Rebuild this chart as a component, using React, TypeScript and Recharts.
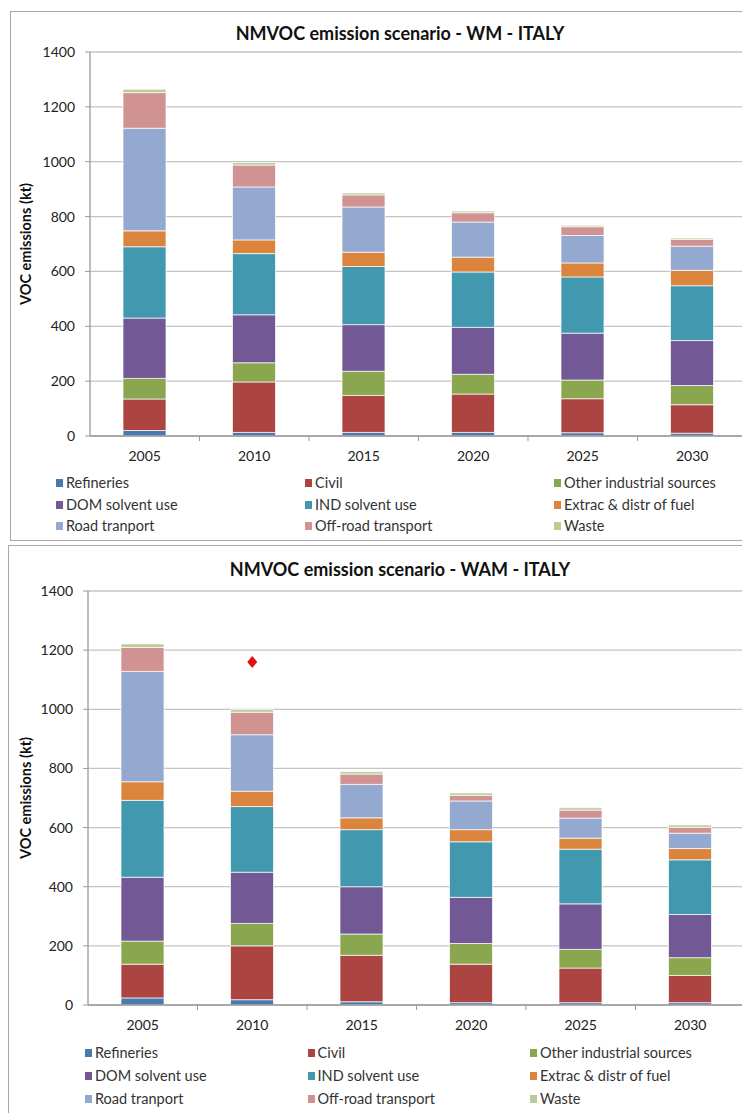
import React from "react";
import { ComposedChart, Bar, Line, XAxis, YAxis, CartesianGrid } from "recharts";

const years = ["2005", "2010", "2015", "2020", "2025", "2030"];
const yTicks = [0, 200, 400, 600, 800, 1000, 1200, 1400];

const sectorKeys = ["refineries", "civil", "other", "dom", "ind", "extrac", "road", "offroad", "waste"];
const sectorNames = [
  "Refineries",
  "Civil",
  "Other industrial sources",
  "DOM solvent use",
  "IND solvent use",
  "Extrac & distr of fuel",
  "Road tranport",
  "Off-road transport",
  "Waste",
];
const sectorColors = ["#4a79b2", "#ac4542", "#8aa64e", "#725894", "#4198af", "#db843d", "#93a9cf", "#d19392", "#b9cd96"];

// WM scenario (kt)
const wmRefineries = [20, 13, 13, 13, 12, 10];
const wmCivil = [115, 184, 135, 140, 124, 104];
const wmOtherInd = [75, 70, 88, 72, 68, 70];
const wmDomSolvent = [220, 175, 170, 171, 171, 164];
const wmIndSolvent = [260, 223, 212, 202, 205, 200];
const wmExtrac = [58, 50, 52, 54, 51, 56];
const wmRoad = [374, 193, 165, 128, 100, 88];
const wmOffRoad = [130, 80, 44, 34, 32, 25];
const wmWaste = [12, 9, 7, 6, 5, 5];

// WAM scenario (kt)
const wamRefineries = [24, 18, 11, 8, 8, 8];
const wamCivil = [114, 182, 157, 130, 117, 92];
const wamOtherInd = [78, 76, 72, 70, 63, 60];
const wamDomSolvent = [216, 173, 160, 156, 154, 146];
const wamIndSolvent = [260, 222, 193, 188, 185, 185];
const wamExtrac = [63, 52, 40, 41, 37, 38];
const wamRoad = [373, 191, 113, 97, 68, 52];
const wamOffRoad = [81, 76, 35, 19, 27, 20];
const wamWaste = [12, 9, 8, 8, 8, 8];
const wamTarget = [null, 1160, null, null, null, null];

const FONT = "Lato, 'Open Sans', sans-serif";
const BAND = 109.5;

const buildRows = (series: number[][], target?: (number | null)[]) =>
  years.map((year, i) => {
    const row: Record<string, any> = { year };
    sectorKeys.forEach((k, j) => (row[k] = series[j][i]));
    if (target) row.target = target[i];
    return row;
  });

const wmData = buildRows([wmRefineries, wmCivil, wmOtherInd, wmDomSolvent, wmIndSolvent, wmExtrac, wmRoad, wmOffRoad, wmWaste]);
const wamData = buildRows(
  [wamRefineries, wamCivil, wamOtherInd, wamDomSolvent, wamIndSolvent, wamExtrac, wamRoad, wamOffRoad, wamWaste],
  wamTarget
);

const renderYearTick = (p: any) => {
  const x = p.x;
  const y = p.y;
  return (
    <g key={`tick-${p.index}`}>
      {p.index > 0 && <line x1={x - BAND / 2} x2={x - BAND / 2} y1={y} y2={y + 5} stroke="#999" />}
      <text x={x} y={y + 25} textAnchor="middle" fill="#222" fontSize={14} fontFamily={FONT}>
        {p.payload.value}
      </text>
    </g>
  );
};

const renderDiamond = (p: any) => {
  const { cx, cy } = p;
  if (p.payload?.target == null || cx == null || cy == null) return <g key={`d-${p.index}`} />;
  return (
    <polygon
      key={`d-${p.index}`}
      points={`${cx},${cy - 6} ${cx + 5},${cy} ${cx},${cy + 6} ${cx - 5},${cy}`}
      fill="#e01010"
    />
  );
};

const LegendGrid = ({ left, top, colWidth, rowHeight }: { left: number; top: number; colWidth: number; rowHeight: number }) => (
  <div style={{ position: "absolute", left, top }}>
    {sectorNames.map((name, i) => (
      <div
        key={name}
        style={{
          position: "absolute",
          left: (i % 3) * colWidth,
          top: Math.floor(i / 3) * rowHeight,
          whiteSpace: "nowrap",
          fontFamily: FONT,
          fontSize: 14.5,
          color: "#333",
          lineHeight: "16px",
          display: "flex",
          alignItems: "center",
        }}
      >
        <span style={{ display: "inline-block", width: 7, height: 8, background: sectorColors[i], marginRight: 3 }} />
        {name}
      </div>
    ))}
  </div>
);

type PanelProps = {
  title: string;
  data: any[];
  top: number;
  frameTop: number;
  frameLeft: number;
  frameHeight: number;
  height: number;
  margin: { top: number; right: number; left: number; bottom: number };
  yWidth: number;
  titleY: number;
  showTarget?: boolean;
};

const Panel = ({ title, data, top, frameTop, frameLeft, frameHeight, height, margin, yWidth, titleY, showTarget }: PanelProps) => (
  <div style={{ position: "absolute", left: 0, top, width: 760, height }}>
    <div
      style={{
        position: "absolute",
        left: frameLeft,
        top: frameTop,
        width: 780,
        height: frameHeight,
        border: "1.5px solid #a8a8a8",
        background: "#fff",
      }}
    />
    <div
      style={{
        position: "absolute",
        left: 0,
        width: 800,
        top: titleY - 12,
        textAlign: "center",
        fontFamily: FONT,
        fontWeight: 700,
        fontSize: 18,
        color: "#111",
        lineHeight: "24px",
      }}
    >
      {title}
    </div>
    <div style={{ position: "absolute", left: 0, top: 0 }}>
      <ComposedChart width={760} height={height} data={data} margin={margin} barSize={43}>
        <CartesianGrid vertical={false} stroke="#c4c4c4" strokeWidth={1.3} />
        <XAxis
          dataKey="year"
          axisLine={{ stroke: "#9a9a9a", strokeWidth: 1.3 }}
          tickLine={false}
          tickSize={0}
          tickMargin={0}
          height={30}
          tick={renderYearTick}
          interval={0}
        />
        <YAxis
          domain={[0, 1400]}
          ticks={yTicks}
          width={yWidth}
          axisLine={{ stroke: "#9a9a9a", strokeWidth: 1.3 }}
          tickLine={{ stroke: "#9a9a9a" }}
          tickSize={5}
          tickMargin={10}
          tick={{ fill: "#222", fontSize: 14, fontFamily: FONT }}
          label={{
            value: "VOC emissions (kt)",
            angle: -90,
            position: "insideLeft",
            offset: 26,
            style: { textAnchor: "middle", fontFamily: FONT, fontWeight: 700, fontSize: 14.5, fill: "#111" },
          }}
        />
        {sectorKeys.map((k, i) => (
          <Bar
            key={k}
            dataKey={k}
            name={sectorNames[i]}
            stackId="s"
            fill={sectorColors[i]}
            stroke="#ffffff"
            strokeOpacity={0.7}
            strokeWidth={1}
            isAnimationActive={false}
          />
        ))}
        {showTarget && (
          <Line
            dataKey="target"
            stroke="none"
            legendType="none"
            dot={renderDiamond}
            activeDot={false}
            isAnimationActive={false}
          />
        )}
      </ComposedChart>
    </div>
  </div>
);

export default function App() {
  return (
    <div style={{ position: "absolute", left: 0, top: 0, width: 742, height: 1113, overflow: "hidden", background: "#fff" }}>
      <Panel
        title="NMVOC emission scenario - WM - ITALY"
        data={wmData}
        top={0}
        frameTop={11}
        frameLeft={10}
        frameHeight={528}
        height={540}
        margin={{ top: 52, right: 13, left: 0, bottom: 74 }}
        yWidth={90}
        titleY={33}
      />
      <LegendGrid left={56} top={475} colWidth={249} rowHeight={21.5} />
      <Panel
        title="NMVOC emission scenario - WAM - ITALY"
        data={wamData}
        top={545}
        frameTop={0}
        frameLeft={8}
        frameHeight={620}
        height={568}
        margin={{ top: 46, right: 15, left: 0, bottom: 78 }}
        yWidth={88}
        titleY={24}
        showTarget
      />
      <LegendGrid left={85} top={1045} colWidth={222.5} rowHeight={23} />
    </div>
  );
}
